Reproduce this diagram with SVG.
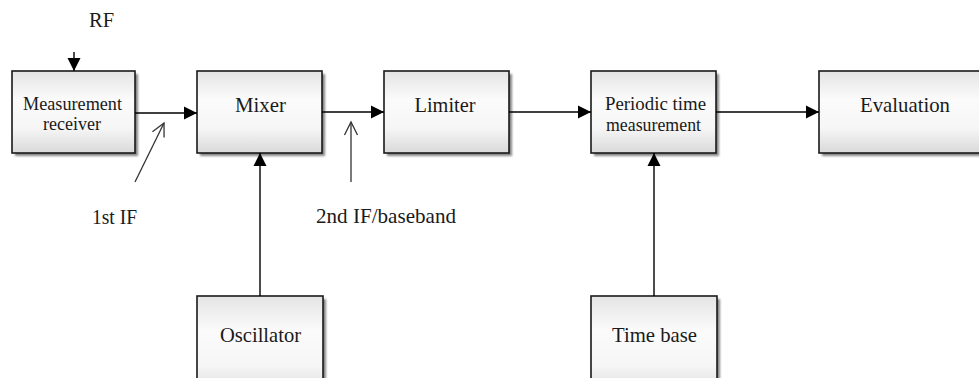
<svg xmlns="http://www.w3.org/2000/svg" width="979" height="378" viewBox="0 0 979 378">
  <defs>
    <linearGradient id="boxfill" x1="0" y1="0" x2="0" y2="1">
      <stop offset="0" stop-color="#e4e4e4"/>
      <stop offset="0.35" stop-color="#fbfbfb"/>
      <stop offset="0.7" stop-color="#f6f6f6"/>
      <stop offset="1" stop-color="#d9d9d9"/>
    </linearGradient>
    <filter id="blur" x="-5%" y="-5%" width="110%" height="110%">
      <feGaussianBlur stdDeviation="0.8"/>
    </filter>
    <marker id="solid" markerUnits="userSpaceOnUse" markerWidth="14" markerHeight="14" viewBox="0 -7 14 14" refX="13" refY="0" orient="auto">
      <path d="M0,-6.5 L13,0 L0,6.5 Z" fill="#000"/>
    </marker>
    <marker id="open" markerUnits="userSpaceOnUse" markerWidth="16" markerHeight="16" viewBox="0 -8 16 16" refX="13" refY="0" orient="auto" overflow="visible">
      <path d="M0,-6.5 L13,0 L0,6.5" fill="none" stroke="#333" stroke-width="1.3"/>
    </marker>
  </defs>
  <style>
    .shadow { fill: #858585; filter: url(#blur); }
    .box { fill: url(#boxfill); stroke: #1a1a1a; stroke-width: 1.6; }
    text { font-family: 'Liberation Serif', 'Times New Roman', serif; fill: #1a1a1a; }
    .lbl { font-size: 21px; text-anchor: middle; }
    .lbl2 { font-size: 19px; text-anchor: middle; }
    .txt { font-size: 21px; text-anchor: middle; }
    .conn { stroke: #000; stroke-width: 1.4; fill: none; }
    .pointer { stroke: #333; stroke-width: 1.3; fill: none; }
  </style>

  <rect width="979" height="378" fill="#fff"/>

  <g id="measurement-receiver">
    <rect class="shadow" x="15" y="74" width="123" height="82"/>
    <rect class="box" x="12" y="71" width="123" height="82"/>
    <text class="lbl2" x="72.5" y="110" textLength="99" lengthAdjust="spacingAndGlyphs">Measurement</text>
    <text class="lbl2" x="72" y="130" textLength="58" lengthAdjust="spacingAndGlyphs">receiver</text>
  </g>

  <g id="mixer">
    <rect class="shadow" x="200" y="74" width="125" height="82"/>
    <rect class="box" x="197" y="71" width="125" height="82"/>
    <text class="lbl" x="260.5" y="112" textLength="51" lengthAdjust="spacingAndGlyphs">Mixer</text>
  </g>

  <g id="limiter">
    <rect class="shadow" x="387" y="74" width="125" height="82"/>
    <rect class="box" x="384" y="71" width="125" height="82"/>
    <text class="lbl" x="445" y="112" textLength="61" lengthAdjust="spacingAndGlyphs">Limiter</text>
  </g>

  <g id="periodic-time-measurement">
    <rect class="shadow" x="594" y="74" width="125" height="82"/>
    <rect class="box" x="591" y="71" width="125" height="82"/>
    <text class="lbl2" x="655.5" y="110" textLength="101" lengthAdjust="spacingAndGlyphs">Periodic time</text>
    <text class="lbl2" x="653.5" y="131" textLength="95" lengthAdjust="spacingAndGlyphs">measurement</text>
  </g>

  <g id="evaluation">
    <rect class="shadow" x="822" y="74" width="180" height="82"/>
    <rect class="box" x="819" y="71" width="180" height="82"/>
    <text class="lbl" x="905" y="112" textLength="90" lengthAdjust="spacingAndGlyphs">Evaluation</text>
  </g>

  <g id="oscillator">
    <rect class="shadow" x="200" y="299" width="126" height="100"/>
    <rect class="box" x="197" y="296" width="126" height="100"/>
    <text class="lbl" x="260.5" y="342" textLength="81" lengthAdjust="spacingAndGlyphs">Oscillator</text>
  </g>

  <g id="time-base">
    <rect class="shadow" x="594" y="299" width="126" height="100"/>
    <rect class="box" x="591" y="296" width="126" height="100"/>
    <text class="lbl" x="654.5" y="342" textLength="85" lengthAdjust="spacingAndGlyphs">Time base</text>
  </g>

  <g id="connectors">
    <line class="conn" x1="74" y1="52" x2="74" y2="71" marker-end="url(#solid)"/>
    <line class="conn" x1="135" y1="113" x2="197" y2="113" marker-end="url(#solid)"/>
    <line class="conn" x1="322" y1="112" x2="384" y2="112" marker-end="url(#solid)"/>
    <line class="conn" x1="509" y1="112" x2="591" y2="112" marker-end="url(#solid)"/>
    <line class="conn" x1="716" y1="112" x2="819" y2="112" marker-end="url(#solid)"/>
    <line class="conn" x1="260" y1="296" x2="260" y2="153" marker-end="url(#solid)"/>
    <line class="conn" x1="654" y1="296" x2="654" y2="153" marker-end="url(#solid)"/>
    <line class="pointer" x1="135" y1="182" x2="164" y2="123" marker-end="url(#open)"/>
    <line class="pointer" x1="351" y1="182" x2="351" y2="122" marker-end="url(#open)"/>
  </g>

  <g id="labels">
    <text class="txt" x="101.5" y="27" textLength="25" lengthAdjust="spacingAndGlyphs">RF</text>
    <text class="txt" x="114.5" y="224" textLength="45" lengthAdjust="spacingAndGlyphs">1st IF</text>
    <text class="txt" x="386" y="223" textLength="140" lengthAdjust="spacingAndGlyphs">2nd IF/baseband</text>
  </g>
</svg>
